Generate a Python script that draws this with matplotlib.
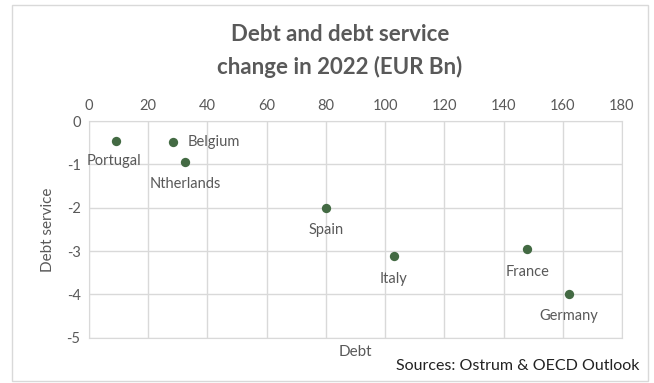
import matplotlib.pyplot as plt
from matplotlib.patches import Rectangle

# debt change vs debt service change, 2022 (EUR bn)
countries = ['Portugal', 'Belgium', 'Ntherlands', 'Spain', 'Italy', 'France', 'Germany']
debt = [9, 28.5, 32.5, 80, 103, 148, 162]
debt_service = [-0.45, -0.48, -0.95, -2.0, -3.12, -2.96, -3.98]

# label placement: offset in points and alignment
label_pos = {
    'Portugal': ((-1, -10), 'center'),
    'Belgium': ((10, 0), 'left'),
}

plt.rcParams['font.family'] = ['Lato', 'DejaVu Sans']
plt.rcParams['axes.unicode_minus'] = False
grey = '#595959'
green = '#436a43'

fig = plt.figure(figsize=(6.54, 3.83), dpi=100)
ax = fig.add_axes([0.136, 0.118, 0.815, 0.566])

ax.scatter(debt, debt_service, s=45, color=green, zorder=3, linewidths=0)
for name, x, y in zip(countries, debt, debt_service):
    off, ha = label_pos.get(name, ((0, -11), 'center'))
    va = 'center' if ha == 'left' else 'top'
    ax.annotate(name, (x, y), xytext=off, textcoords='offset points',
                ha=ha, va=va, fontsize=10.5, color=grey)

ax.set_xlim(0, 180)
ax.set_ylim(-5, 0)
ax.set_xticks(range(0, 181, 20))
ax.set_yticks(range(-5, 1))
ax.xaxis.tick_top()
ax.tick_params(length=0, labelsize=10.5, labelcolor=grey, pad=6)
ax.grid(color='#d9d9d9', linewidth=1)
ax.set_axisbelow(True)
for s in ax.spines.values():
    s.set_color('#d9d9d9')

ax.set_ylabel('Debt service', fontsize=11, color=grey, labelpad=8)
ax.set_xlabel('Debt', fontsize=11, color=grey, labelpad=5)

fig.text(0.52, 0.91, 'Debt and debt service', ha='center', va='center',
         fontsize=16, fontweight='bold', color=grey)
fig.text(0.52, 0.825, 'change in 2022 (EUR Bn)', ha='center', va='center',
         fontsize=16, fontweight='bold', color=grey)
fig.text(0.978, 0.045, 'Sources: Ostrum & OECD Outlook', ha='right', va='center',
         fontsize=11.5, color='#222222')

# chart frame
fig.patches.append(Rectangle((12 / 654, 2 / 383), 636 / 654, 376 / 383,
                             transform=fig.transFigure, fill=False,
                             edgecolor='#d9d9d9', linewidth=1))

fig.savefig('out.png', dpi=100)
